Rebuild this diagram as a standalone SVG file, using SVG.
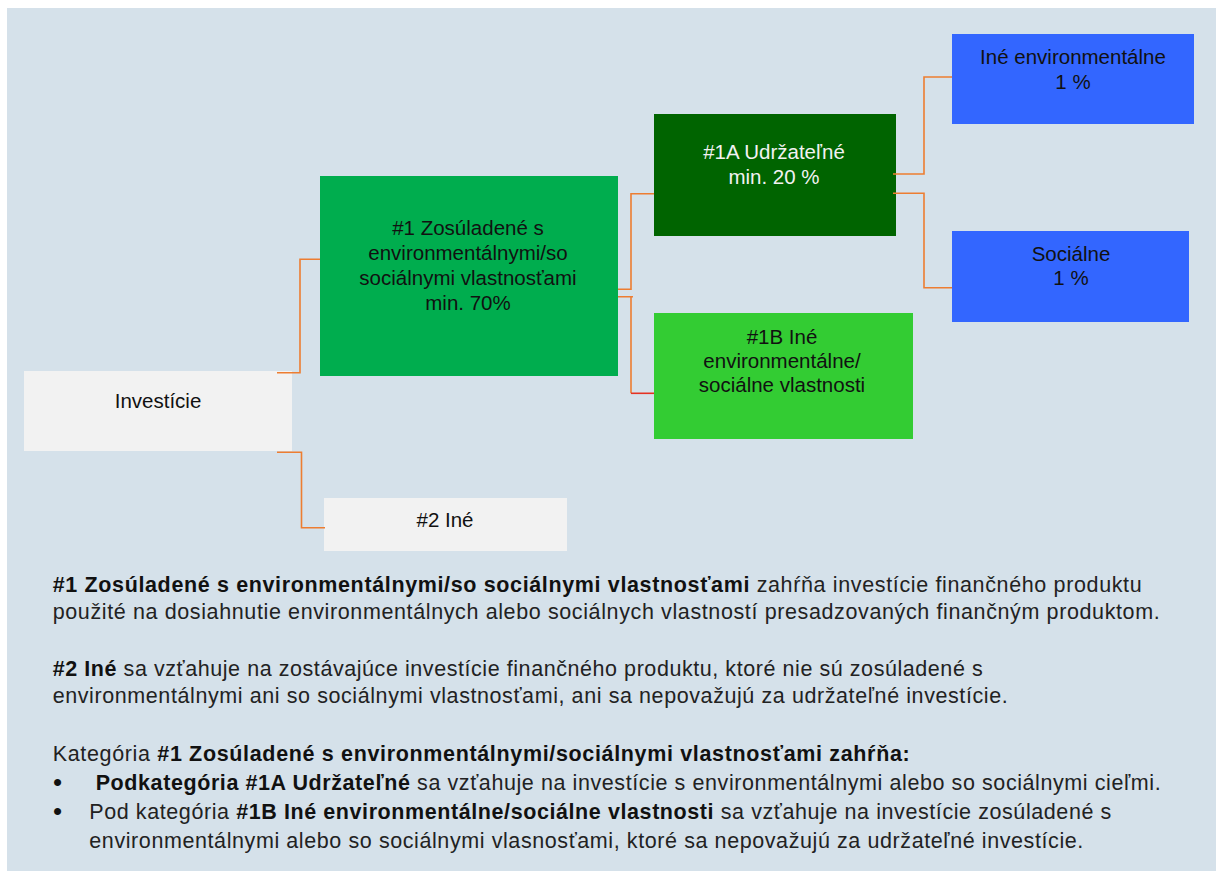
<svg xmlns="http://www.w3.org/2000/svg" width="1216" height="871" viewBox="0 0 1216 871">
<style>
  .bg { fill: #D5E1EA; }
  .nt { font-family: "Liberation Sans", Arial, sans-serif; font-size: 20.5px; fill: #111111; text-anchor: middle; }
  .nt.light { fill: #F2F2F2; }
  .p { font-family: "Liberation Sans", Arial, sans-serif; font-size: 21.5px; fill: #222222; }
  .b { font-weight: bold; fill: #111111; }
  .bul { font-family: "Liberation Sans", Arial, sans-serif; font-size: 26px; fill: #111111; }
  .c { fill: none; stroke: #ED7D31; stroke-width: 1.6; }
  .gray { fill: #F2F2F2; }
  .g1 { fill: #00AD4E; }
  .g1a { fill: #006400; }
  .g1b { fill: #33CC33; }
  .blue { fill: #3366FF; }
</style>
<rect class="bg" x="7" y="8" width="1209" height="863"/>

<g id="node-investicie">
  <rect class="gray" x="24" y="371" width="268" height="80"/>
  <text class="nt" x="158" y="408">Investície</text>
</g>
<g id="node-2-ine">
  <rect class="gray" x="324" y="498" width="243" height="53"/>
  <text class="nt" x="445" y="527">#2 Iné</text>
</g>
<g id="node-1">
  <rect class="g1" x="320" y="176" width="298" height="200"/>
  <text class="nt" x="468" y="234.5">#1 Zosúladené s</text>
  <text class="nt" x="468" y="259.5">environmentálnymi/so</text>
  <text class="nt" x="468" y="284.5">sociálnymi vlastnosťami</text>
  <text class="nt" x="468" y="309.5">min. 70%</text>
</g>
<g id="node-1a">
  <rect class="g1a" x="654" y="114" width="242" height="122"/>
  <text class="nt light" x="774" y="159">#1A Udržateľné</text>
  <text class="nt light" x="774" y="184">min. 20 %</text>
</g>
<g id="node-1b">
  <rect class="g1b" x="654" y="313" width="259" height="126"/>
  <text class="nt" x="782" y="343.5">#1B Iné</text>
  <text class="nt" x="782" y="367.5">environmentálne/</text>
  <text class="nt" x="782" y="391.5">sociálne vlastnosti</text>
</g>
<g id="node-ine-env">
  <rect class="blue" x="952" y="34" width="242" height="90"/>
  <text class="nt" x="1073" y="64">Iné environmentálne</text>
  <text class="nt" x="1073" y="89">1 %</text>
</g>
<g id="node-socialne">
  <rect class="blue" x="952" y="231" width="237" height="91"/>
  <text class="nt" x="1071" y="261">Sociálne</text>
  <text class="nt" x="1071" y="285">1 %</text>
</g>

<g id="connectors">
  <polyline class="c" points="277,372.7 300,372.7 300,259.3 320,259.3"/>
  <polyline class="c" points="277,452.3 301.5,452.3 301.5,527.7 325,527.7" stroke-width="2"/>
  <polyline class="c" points="618,289.3 631,289.3 631,193.7 654,193.7"/>
  <polyline class="c" points="618,296.7 633,296.7 631,296.7 631,393.3"/>
  <line x1="631" y1="393.3" x2="654" y2="393.3" stroke="#E53222" stroke-width="1.6"/>
  <polyline class="c" points="893,174 924,174 924,77 952,77"/>
  <polyline class="c" points="893,193.3 924,193.3 924,287.7 952,287.7"/>
</g>

<g id="legend">
  <text class="p" x="52.7" y="591.7" textLength="1089"><tspan class="b">#1 Zosúladené s environmentálnymi/so sociálnymi vlastnosťami</tspan> zahŕňa investície finančného produktu</text>
  <text class="p" x="52.7" y="619.3" textLength="1107">použité na dosiahnutie environmentálnych alebo sociálnych vlastností presadzovaných finančným produktom.</text>
  <text class="p" x="52.7" y="676" textLength="930"><tspan class="b">#2 Iné</tspan> sa vzťahuje na zostávajúce investície finančného produktu, ktoré nie sú zosúladené s</text>
  <text class="p" x="52.7" y="703.3" textLength="955">environmentálnymi ani so sociálnymi vlastnosťami, ani sa nepovažujú za udržateľné investície.</text>
  <text class="p" x="52.7" y="760.7" textLength="857">Kategória <tspan class="b">#1 Zosúladené s environmentálnymi/sociálnymi vlastnosťami zahŕňa:</tspan></text>
  <text class="bul" x="53" y="791">•</text>
  <text class="p" x="95.7" y="790" textLength="1065"><tspan class="b">Podkategória #1A Udržateľné</tspan> sa vzťahuje na investície s environmentálnymi alebo so sociálnymi cieľmi.</text>
  <text class="bul" x="53" y="820">•</text>
  <text class="p" x="89.3" y="819" textLength="1022">Pod kategória <tspan class="b">#1B Iné environmentálne/sociálne vlastnosti</tspan> sa vzťahuje na investície zosúladené s</text>
  <text class="p" x="89.3" y="848.3" textLength="994">environmentálnymi alebo so sociálnymi vlasnosťami, ktoré sa nepovažujú za udržateľné investície.</text>
</g>
</svg>
